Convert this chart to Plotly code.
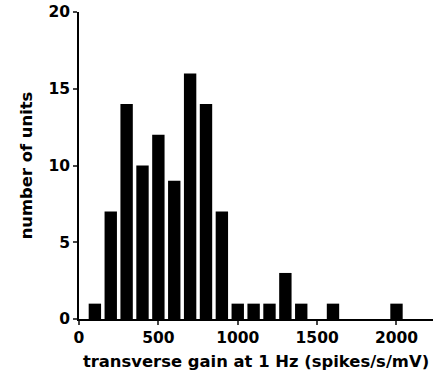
import plotly.graph_objects as go

gain_centers = [100, 200, 300, 400, 500, 600, 700, 800, 900, 1000, 1100, 1200, 1300, 1400, 1600, 2000]
unit_counts = [1, 7, 14, 10, 12, 9, 16, 14, 7, 1, 1, 1, 3, 1, 1, 1]
x_ticks = [0, 500, 1000, 1500, 2000]
y_ticks = [0, 5, 10, 15, 20]

tick_font = dict(family="DejaVu Sans", size=15.5, color="black", weight="bold")
title_font = dict(family="DejaVu Sans", size=16.4, color="black", weight="bold")

fig = go.Figure(go.Bar(x=gain_centers, y=unit_counts, width=78,
                       marker=dict(color="black", line=dict(width=0))))
fig.update_layout(
    width=433, height=374,
    margin=dict(l=79, r=0, t=12, b=55),
    paper_bgcolor="white", plot_bgcolor="white",
    showlegend=False,
    font=tick_font,
)
fig.update_xaxes(range=[0, 2230], tickvals=x_ticks, ticks="outside", ticklen=4,
                 tickwidth=1.5, showline=True, linewidth=1.5, linecolor="black",
                 showgrid=False, zeroline=False, tickfont=tick_font,
                 title=dict(text="transverse gain at 1 Hz (spikes/s/mV)", font=title_font, standoff=9))
fig.update_yaxes(range=[0, 20], tickvals=y_ticks, ticks="outside", ticklen=4,
                 tickwidth=1.5, showline=True, linewidth=1.5, linecolor="black",
                 showgrid=False, zeroline=False, tickfont=tick_font,
                 title=dict(text="number of units", font=title_font, standoff=12))
fig.write_html("out.html")
